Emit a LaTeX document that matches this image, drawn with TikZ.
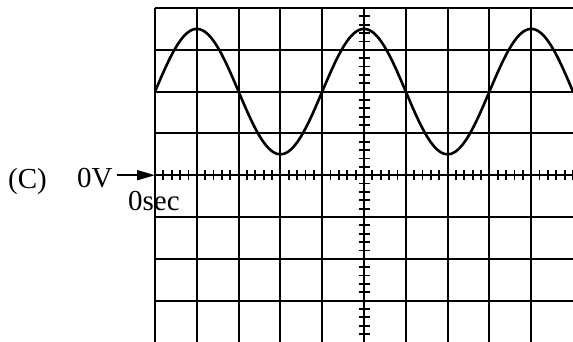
\documentclass[tikz,border=0pt]{standalone}
\usepackage{fontspec}
\setmainfont{Liberation Serif}
\usetikzlibrary{arrows.meta}
\begin{document}
\begin{tikzpicture}[x=1pt,y=-1pt,
  gridline/.style={line width=2pt},
  tickmark/.style={line width=1.8pt},
  wave/.style={line width=2.6pt},
  lab/.style={inner sep=0pt, font=\fontsize{29}{31}\selectfont},
]
\useasboundingbox (0,0) rectangle (573,341);
\clip (0,0) rectangle (573,341);
\def\d{41.8}
% grid (cut off at the right and bottom edges)
\foreach \i in {0,...,9} \draw[gridline] (155+\i*\d,8) -- (155+\i*\d,345);
\foreach \j in {0,...,7} \draw[gridline] (155,8+\j*\d) -- (580,8+\j*\d);
% ticks on horizontal axis
\foreach \i in {0,...,50} \draw[tickmark] (155+\i*\d/5,170.2) -- (155+\i*\d/5,180.2);
% ticks on vertical axis
\foreach \j in {0,...,40} \draw[tickmark] (358.5,8+\j*\d/5) -- (369.5,8+\j*\d/5);
% waveform (phase in degrees)
\draw[wave] plot[domain=0:900, samples=241, smooth] ({155+(\x/360)*(4*\d)},{91.6-62.7*sin(\x)});
% labels
\node[lab, anchor=base west] (c) at (8,188) {(C)};
\node[lab, anchor=base west] (v) at (77,187) {0V};
\node[lab, anchor=base west] (s) at (128,210) {0sec};
\coordinate (o) at (155,175.2);
\coordinate (vs) at ([xshift=4pt]v.east);
\draw[line width=1.8pt, -{Triangle[length=18pt,width=10pt]}] (vs |- o) -- (o);
\end{tikzpicture}
\end{document}
